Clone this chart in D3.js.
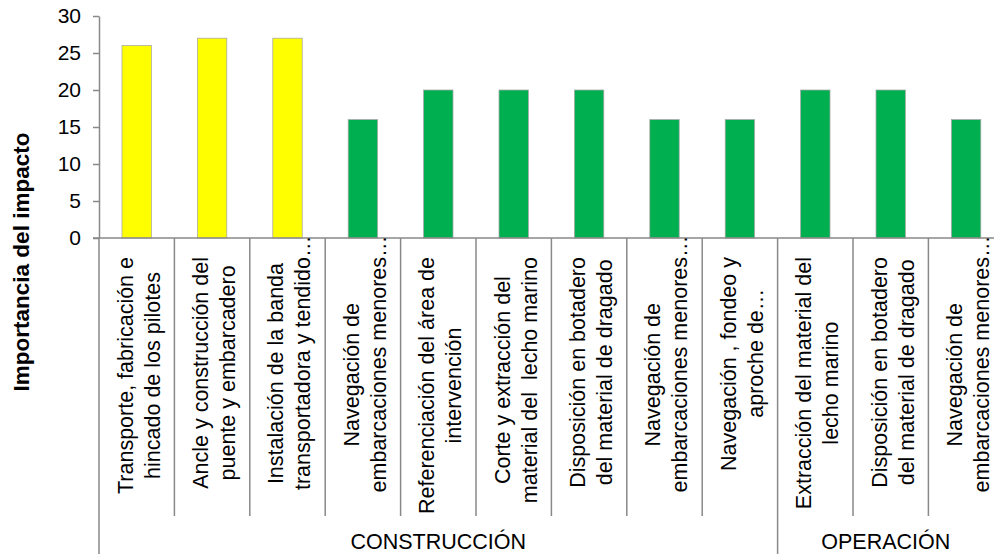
<!DOCTYPE html>
<html>
<head>
<meta charset="utf-8">
<script src="https://cdn.jsdelivr.net/npm/d3@7"></script>
<style>
  body { margin: 0; background: #fff; }
  svg { display: block; font-family: "Liberation Sans", Arial, sans-serif; }
</style>
</head>
<body>
<svg id="chart" width="994" height="554"></svg>
<script>
// data
var categories = [
  "Transporte, fabricación e\nhincado de los pilotes",
  "Ancle y construcción del\npuente y embarcadero",
  "Instalación de la banda\ntransportadora y tendido…",
  "Navegación de\nembarcaciones menores…",
  "Referenciación del área de\nintervención",
  "Corte y extracción del\nmaterial del  lecho marino",
  "Disposición en botadero\ndel material de dragado",
  "Navegación de\nembarcaciones menores…",
  "Navegación , fondeo y\naproche de…",
  "Extracción del material del\nlecho marino",
  "Disposición en botadero\ndel material de dragado",
  "Navegación de\nembarcaciones menores…"
];
var values = [26, 27, 27, 16, 20, 20, 20, 16, 16, 20, 20, 16];
var phases = ["CONSTRUCCIÓN", "CONSTRUCCIÓN", "CONSTRUCCIÓN", "CONSTRUCCIÓN",
  "CONSTRUCCIÓN", "CONSTRUCCIÓN", "CONSTRUCCIÓN", "CONSTRUCCIÓN", "CONSTRUCCIÓN",
  "OPERACIÓN", "OPERACIÓN", "OPERACIÓN"];
var yTicks = [0, 5, 10, 15, 20, 25, 30];
var yTitle = "Importancia del impacto";

var width = 994, height = 554;
var plotLeft = 99, plotTop = 16, plotBottom = 238, step = 75.4;
var labelTop = 257, sepShort = 516;
var n = values.length;
var axisColor = "#898989";

var svg = d3.select("#chart");

// cells for labels/separators, bars sit in the middle of each cell
var xCell = d3.scaleBand().domain(d3.range(n)).range([plotLeft, plotLeft + step * n]);
var xBar = d3.scaleBand().domain(d3.range(n)).range(xCell.range())
    .paddingInner(0.61).paddingOuter(0.305);
var y = d3.scaleLinear().domain([0, 30]).range([plotBottom, plotTop]);

// moderate impact (>=25) yellow, irrelevant green
var color = d3.scaleThreshold().domain([25]).range(["#00b050", "#ffff00"]);

// bars
svg.append("g").selectAll("rect")
  .data(values)
  .join("rect")
    .attr("x", function(d, i) { return xBar(i); })
    .attr("y", function(d) { return y(d); })
    .attr("width", xBar.bandwidth())
    .attr("height", function(d) { return y(0) - y(d); })
    .attr("fill", function(d) { return color(d); })
    .attr("stroke", "#a6a6a6")
    .attr("stroke-width", 0.75);

// y axis
var yAxis = svg.append("g")
    .attr("transform", "translate(" + plotLeft + ",0)")
    .call(d3.axisLeft(y).tickValues(yTicks).tickSize(6).tickSizeOuter(0).tickPadding(12));
yAxis.select(".domain").attr("stroke", axisColor).attr("stroke-width", 1.5);
yAxis.selectAll(".tick line").attr("stroke", axisColor).attr("stroke-width", 1.5);
yAxis.selectAll(".tick text")
    .attr("fill", "#000")
    .style("font-size", "21px")
    .style("font-family", "'Liberation Sans', Arial, sans-serif");

// x axis line
svg.append("line")
    .attr("x1", plotLeft - 6).attr("x2", width)
    .attr("y1", y(0)).attr("y2", y(0))
    .attr("stroke", axisColor).attr("stroke-width", 1.5);

// category separators, long ones where the phase changes
var seps = d3.range(n);
svg.append("g").selectAll("line")
  .data(seps)
  .join("line")
    .attr("x1", function(i) { return xCell(i); })
    .attr("x2", function(i) { return xCell(i); })
    .attr("y1", y(0))
    .attr("y2", function(i) { return (i === 0 || phases[i] !== phases[i - 1]) ? height : sepShort; })
    .attr("stroke", axisColor).attr("stroke-width", 1.5);

// rotated category labels, text ends at the top, lines centred in the block
var fs = 21.5, lh = 27;
var labels = svg.append("g")
    .style("font-size", fs + "px")
    .attr("fill", "#000");

categories.forEach(function(c, i) {
  var lines = c.split("\n");
  var g = labels.append("g")
      .attr("transform", "translate(" + (xCell(i) + xCell.bandwidth() / 2) + "," + labelTop + ") rotate(-90)");
  // measure each line without the ellipsis
  var widths = lines.map(function(l) {
    var t = g.append("text").style("white-space", "pre").text(l.replace("…", ""));
    var w = t.node().getComputedTextLength();
    t.remove();
    return w;
  });
  var W = d3.max(widths);
  lines.forEach(function(l, k) {
    g.append("text")
      .style("white-space", "pre")
      .attr("x", -W / 2 - widths[k] / 2)
      .attr("y", (k - (lines.length - 1) / 2) * lh + fs * 0.44)
      .attr("text-anchor", "start")
      .text(l);
  });
});

// phase labels
var groups = d3.groups(d3.range(n), function(i) { return phases[i]; });
svg.append("g").selectAll("text")
  .data(groups)
  .join("text")
    .attr("x", function(g) {
      var a = xCell(g[1][0]);
      var b = Math.min(xCell(g[1][g[1].length - 1]) + xCell.bandwidth(), width);
      return (a + b) / 2;
    })
    .attr("y", 549)
    .attr("text-anchor", "middle")
    .style("font-size", fs + "px")
    .attr("fill", "#000")
    .text(function(g) { return g[0]; });

// y axis title
svg.append("text")
    .attr("transform", "translate(29,262) rotate(-90)")
    .attr("text-anchor", "middle")
    .style("font-size", "22.5px")
    .style("font-weight", "bold")
    .attr("fill", "#000")
    .text(yTitle);
</script>
</body>
</html>
